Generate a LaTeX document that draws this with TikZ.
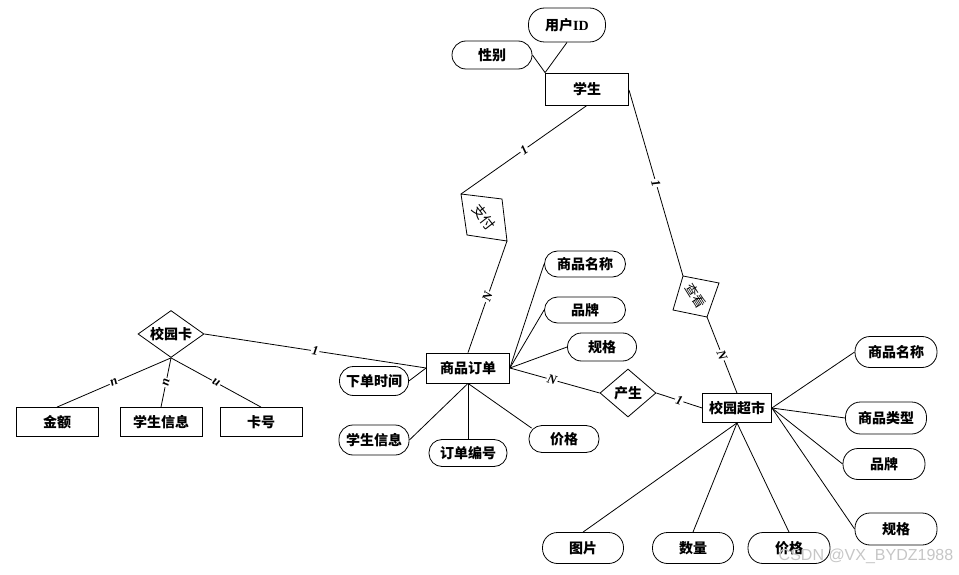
\documentclass[tikz,border=0pt]{standalone}
\usepackage{fontspec}
\setmainfont{Liberation Serif}
\newfontfamily\cjk{Noto Sans CJK SC}
\newfontfamily\wmfont{Liberation Sans}
\usetikzlibrary{shapes.geometric}
\begin{document}
\begin{tikzpicture}[x=1pt,y=-1pt,line width=0.8pt,
  every node/.style={inner sep=0pt},
  ent/.style={draw,font=\cjk\bfseries\fontsize{14}{14}\selectfont,minimum height=30pt},
  attr/.style={draw,rounded corners=14pt,font=\cjk\bfseries\fontsize{14}{14}\selectfont,minimum height=29pt},
  rel/.style={draw,diamond,aspect=1.4,font=\cjk\bfseries\fontsize{14}{14}\selectfont},
  card/.style={font=\bfseries\itshape\fontsize{13}{13}\selectfont,fill=white,inner sep=1pt,sloped}
]
\useasboundingbox (0,0) rectangle (959,575);

% student
\node[ent,minimum width=83pt,minimum height=32pt] (stu) at (587,89) {学生};
\node[attr,minimum width=77pt,minimum height=34pt,rounded corners=16pt] (uid) at (567,25) {用户{\rmfamily\bfseries ID}};
\node[attr,minimum width=80pt,minimum height=28pt] (sex) at (492,55) {性别};
\draw (sex.east) -- (stu.north west);
\draw (uid.south) -- (stu.north west);

% pay diamond (rotated)
\coordinate (payT) at (461,194);
\coordinate (payR) at (502,199);
\coordinate (payB) at (507,241);
\coordinate (payL) at (467,235);
\draw (payT) -- (payR) -- (payB) -- (payL) -- cycle;
\node[font=\cjk\fontsize{14}{14}\selectfont,rotate=-52] (pay) at (484,217) {支付};

% order
\node[ent,minimum width=83pt,minimum height=30pt] (ord) at (468,368) {商品订单};
\draw (stu.south) -- node[card,pos=0.5] {1} (payT);
\draw (payB) -- node[card,pos=0.5] {N} (ord.north);

% view diamond
\coordinate (viT) at (683,276);
\coordinate (viR) at (719,283);
\coordinate (viB) at (707,317);
\coordinate (viL) at (673,310);
\draw (viT) -- (viR) -- (viB) -- (viL) -- cycle;
\node[font=\cjk\fontsize{13}{13}\selectfont,rotate=-58] (view) at (696,296) {查看};

% supermarket
\node[ent,minimum width=69pt,minimum height=29pt] (mkt) at (737,408) {校园超市};
\coordinate (stuR) at (629,90);
\draw (stuR) -- node[card,pos=0.5] {1} (viT);
\draw (viB) -- node[card,pos=0.5] {N} (mkt.north);

% campus card
\node[rel,minimum width=66pt,minimum height=47pt] (card) at (171,334) {校园卡};
\node[ent,minimum width=82pt,minimum height=29pt] (amt) at (57,422) {金额};
\node[ent,minimum width=82pt,minimum height=29pt] (sinfo) at (161,422) {学生信息};
\node[ent,minimum width=82pt,minimum height=29pt] (cno) at (261,422) {卡号};
\draw (card.east) -- node[card,pos=0.5] {1} (ord.west);
\draw (card.south) -- node[card,pos=0.5] {n} (amt.north);
\draw (card.south) -- node[card,pos=0.5] {n} (sinfo.north);
\draw (cno.north) -- node[card,pos=0.5,allow upside down] {n} (card.south);

% order attributes
\node[attr,minimum width=69pt] (otime) at (374,381) {下单时间};
\node[attr,minimum width=70pt,minimum height=30pt] (oinfo) at (374,440) {学生信息};
\node[attr,minimum width=78pt,minimum height=27pt,rounded corners=13pt] (ono) at (468,453) {订单编号};
\node[attr,minimum width=70pt,minimum height=27pt,rounded corners=13pt] (oprice) at (564,439) {价格};
\node[attr,minimum width=81pt,minimum height=26pt,rounded corners=13pt] (oname) at (585,264) {商品名称};
\node[attr,minimum width=81pt,minimum height=26pt,rounded corners=13pt] (obrand) at (585,310) {品牌};
\node[attr,minimum width=69pt,minimum height=28pt] (ospec) at (602,347) {规格};
\draw (otime.east) -- (ord.west);
\draw (oinfo.east) -- (ord.south);
\draw (ono.north) -- (ord.south);
\draw (oprice.north west) ++(3,3) coordinate (opc) (opc) -- (ord.south);
\draw (ord.east) -- (oname.west);
\draw (ord.east) -- (obrand.west);
\draw (ord.east) -- (ospec.west);

% produce diamond
\node[rel,minimum width=56pt,minimum height=48pt] (prod) at (628,393) {产生};
\draw (ord.east) -- node[card,pos=0.47] {N} (prod.west);
\draw (prod.east) -- node[card,pos=0.5] {1} (mkt.west);

% market attributes
\node[attr,minimum width=82pt,minimum height=31pt,rounded corners=15pt] (mname) at (896,352) {商品名称};
\node[attr,minimum width=81pt,minimum height=32pt,rounded corners=15pt] (mtype) at (886,418) {商品类型};
\node[attr,minimum width=82pt,minimum height=31pt,rounded corners=15pt] (mbrand) at (884,464) {品牌};
\node[attr,minimum width=82pt,minimum height=32pt,rounded corners=15pt] (mspec) at (896,529) {规格};
\node[attr,minimum width=81pt,minimum height=31pt,rounded corners=15pt] (mpic) at (583,548) {图片};
\node[attr,minimum width=81pt,minimum height=31pt,rounded corners=15pt] (mqty) at (693,548) {数量};
\node[attr,minimum width=82pt,minimum height=31pt,rounded corners=15pt] (mprice) at (789,548) {价格};
\draw (mkt.east) -- (mname.west);
\draw (mkt.east) -- (mtype.west);
\draw (mkt.east) -- (mbrand.west);
\draw (mkt.east) -- (mspec.west);
\draw (mkt.south) -- (mpic.north);
\draw (mkt.south) -- (mqty.north);
\draw (mkt.south) -- (mprice.north);

% watermark
\node[font=\wmfont\fontsize{16}{16}\selectfont,text=gray!45] (wm) at (866,556) {CSDN @VX\_BYDZ1988};
\end{tikzpicture}
\end{document}
